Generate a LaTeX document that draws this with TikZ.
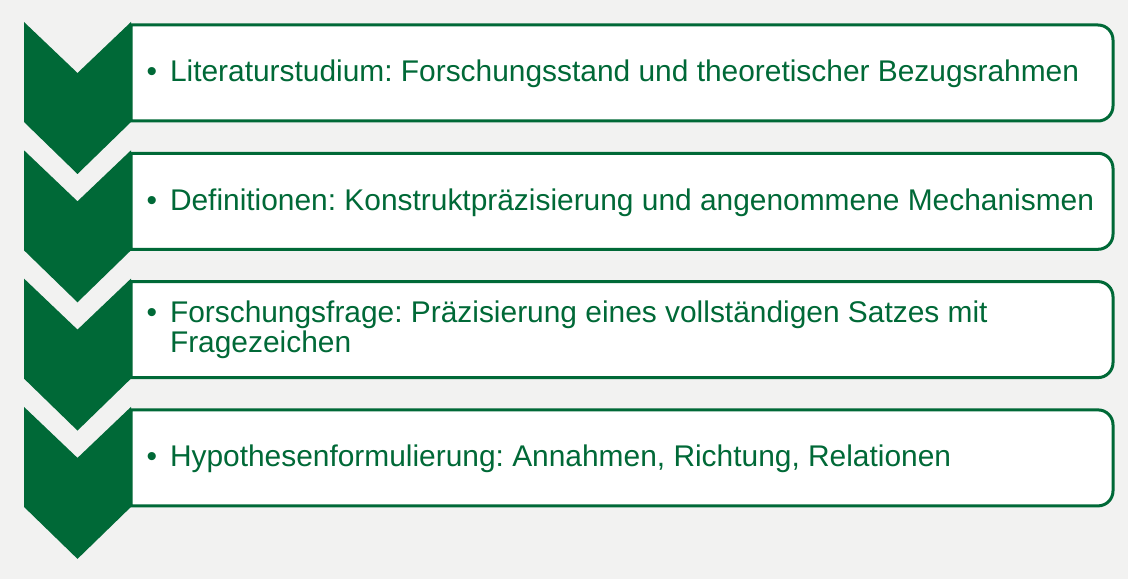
\documentclass[tikz,border=0pt]{standalone}
\usepackage{fontspec}
\setmainfont{Liberation Sans}
\definecolor{dgreen}{RGB}{0,105,55}
\definecolor{bgc}{RGB}{242,242,241}
\begin{document}
\frenchspacing
\begin{tikzpicture}[x=1pt,y=1pt,
  boxframe/.style={draw=dgreen, line width=3pt, fill=white},
  chev/.style={fill=dgreen},
  lbl/.style={text=dgreen, font=\fontsize{29.9}{30}\selectfont, inner sep=0pt, outer sep=0pt},
  holder/.style={inner sep=0pt, outer sep=0pt, minimum width=982pt, minimum height=96pt, anchor=north west}]
\fill[bgc] (0,0) rectangle (1128,579);
\useasboundingbox (0,0) rectangle (1128,579);
\foreach \i in {0,...,3}{
  \pgfmathsetmacro\yt{554-128.3*\i}
  \node[holder] (b\i) at (131,\yt) {};
  \filldraw[boxframe] (b\i.south west) -- (b\i.north west) -- ([xshift=-15pt]b\i.north east) arc[start angle=90,end angle=0,radius=15pt] -- ([yshift=15pt]b\i.south east) arc[start angle=0,end angle=-90,radius=15pt] -- cycle;
  \pgfmathsetmacro\ct{557-128.3*\i}
  \fill[chev] (24,\ct) -- (77.5,\ct-51) -- (131,\ct) -- (131,\ct-100) -- (77.5,\ct-152) -- (24,\ct-100) -- cycle;
}
\node[lbl, anchor=base west] (u0) at (146.5,497) {•};
\node[lbl, anchor=base west] (t0) at (170,497) {Literaturstudium: Forschungsstand und theoretischer Bezugsrahmen};
\node[lbl, anchor=base west] (u1) at (146.5,368.7) {•};
\node[lbl, anchor=base west] (t1) at (170,368.7) {Definitionen: Konstruktpräzisierung und angenommene Mechanismen};
\node[lbl, anchor=base west] (u2) at (146.5,256) {•};
\node[lbl, anchor=base west] (t2) at (170,256) {\parbox[t]{930pt}{Forschungsfrage: Präzisierung eines vollständigen Satzes mit\\Fragezeichen}};
\node[lbl, anchor=base west] (u3) at (146.5,112.1) {•};
\node[lbl, anchor=base west] (t3) at (170,112.1) {Hypothesenformulierung: Annahmen, Richtung, Relationen};
\end{tikzpicture}
\end{document}
